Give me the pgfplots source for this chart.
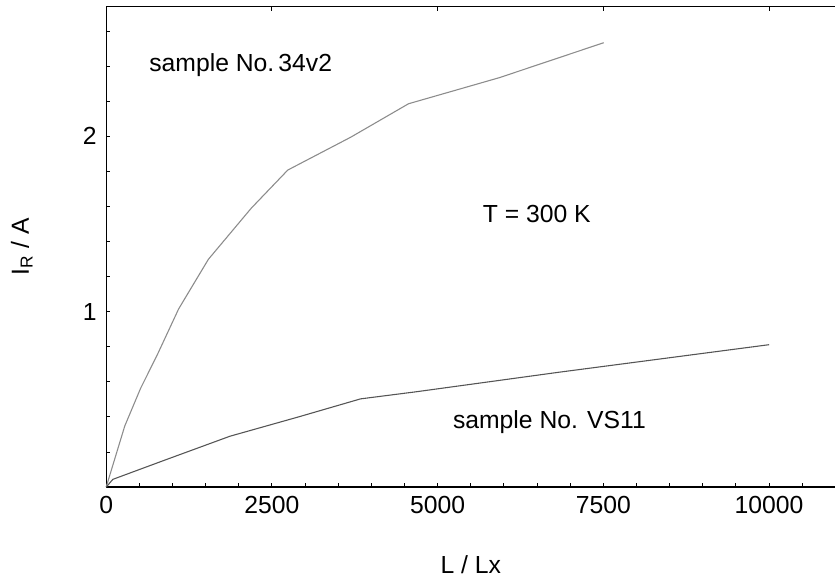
\documentclass[border=0pt]{standalone}
\usepackage{fontspec}
\setmainfont{Liberation Sans}
\usepackage{pgfplots}
\pgfplotsset{compat=1.18}
\definecolor{lightcurve}{HTML}{8C8C8C}
\definecolor{darkcurve}{HTML}{555555}
\newcommand{\fs}{\fontsize{25}{30}\selectfont}
\begin{document}
\begin{tikzpicture}
\pgfplotsset{
  common/.style={
    scale only axis, width=734.8bp, height=484bp,
    xmin=0, xmax=11000, ymin=0, ymax=2.739,
    at={(0,0)}, anchor=south west,
    tick align=inside,
    major tick length=4bp, minor tick length=4bp,
    every tick/.style={black, line width=1pt},
    axis line style={black, line width=1.3pt},
    tick label style={font=\fs},
    /pgf/number format/assume math mode=true,
    /pgf/number format/1000 sep={},
    scaled x ticks=false, scaled y ticks=false,
  }
}
\begin{axis}[common,
  axis x line*=bottom, axis y line*=left,
  xtick={0,2500,5000,7500,10000},
  minor xtick={500,1000,1500,2000,3000,3500,4000,4500,5500,6000,6500,7000,8000,8500,9000,9500,10500},
  ytick={1,2},
  minor ytick={0.2,0.4,0.6,0.8,1.2,1.4,1.6,1.8,2.2,2.4,2.6},
  xticklabel style={yshift=-6bp},
  yticklabel style={xshift=-6bp},
  xlabel={L / Lx}, ylabel={I\textsubscript{R} / A},
  every axis x label/.style={at={([yshift=-78bp]axis description cs:0.5,0)}, anchor=center, font=\fs},
  every axis y label/.style={at={([xshift=-85bp]axis description cs:0,0.5)}, anchor=center, rotate=90, font=\fs},
  clip=false,
]
\addplot[lightcurve, line width=1.1pt] coordinates {
  (0,0) (280,0.348) (519,0.563) (768,0.752) (1093,1.016) (1542,1.299)
  (2190,1.591) (2740,1.808) (3688,1.995) (4561,2.186) (5933,2.335) (7505,2.534)
};
\addplot[darkcurve, line width=1.1pt] coordinates {
  (0,0) (100,0.044) (893,0.155) (1867,0.29) (2900,0.40) (3837,0.503)
  (4686,0.544) (6831,0.655) (10000,0.812)
};
\node[anchor=west, font=\fs] at (axis cs:599,2.405) {sample No.\,34v2};
\node[anchor=west, font=\fs] at (axis cs:5629,1.556) {T = 300 K};
\node[anchor=west, font=\fs] at (axis cs:5180,0.368) {sample No. VS11};
\end{axis}
\begin{axis}[common,
  axis x line*=top, axis y line=none,
  xtick={0,2500,5000,7500,10000}, xticklabels={},
  ytick=\empty,
]
\end{axis}
\path[use as bounding box] (-107bp,-94bp) rectangle (729bp,490bp);
\end{tikzpicture}
\end{document}
